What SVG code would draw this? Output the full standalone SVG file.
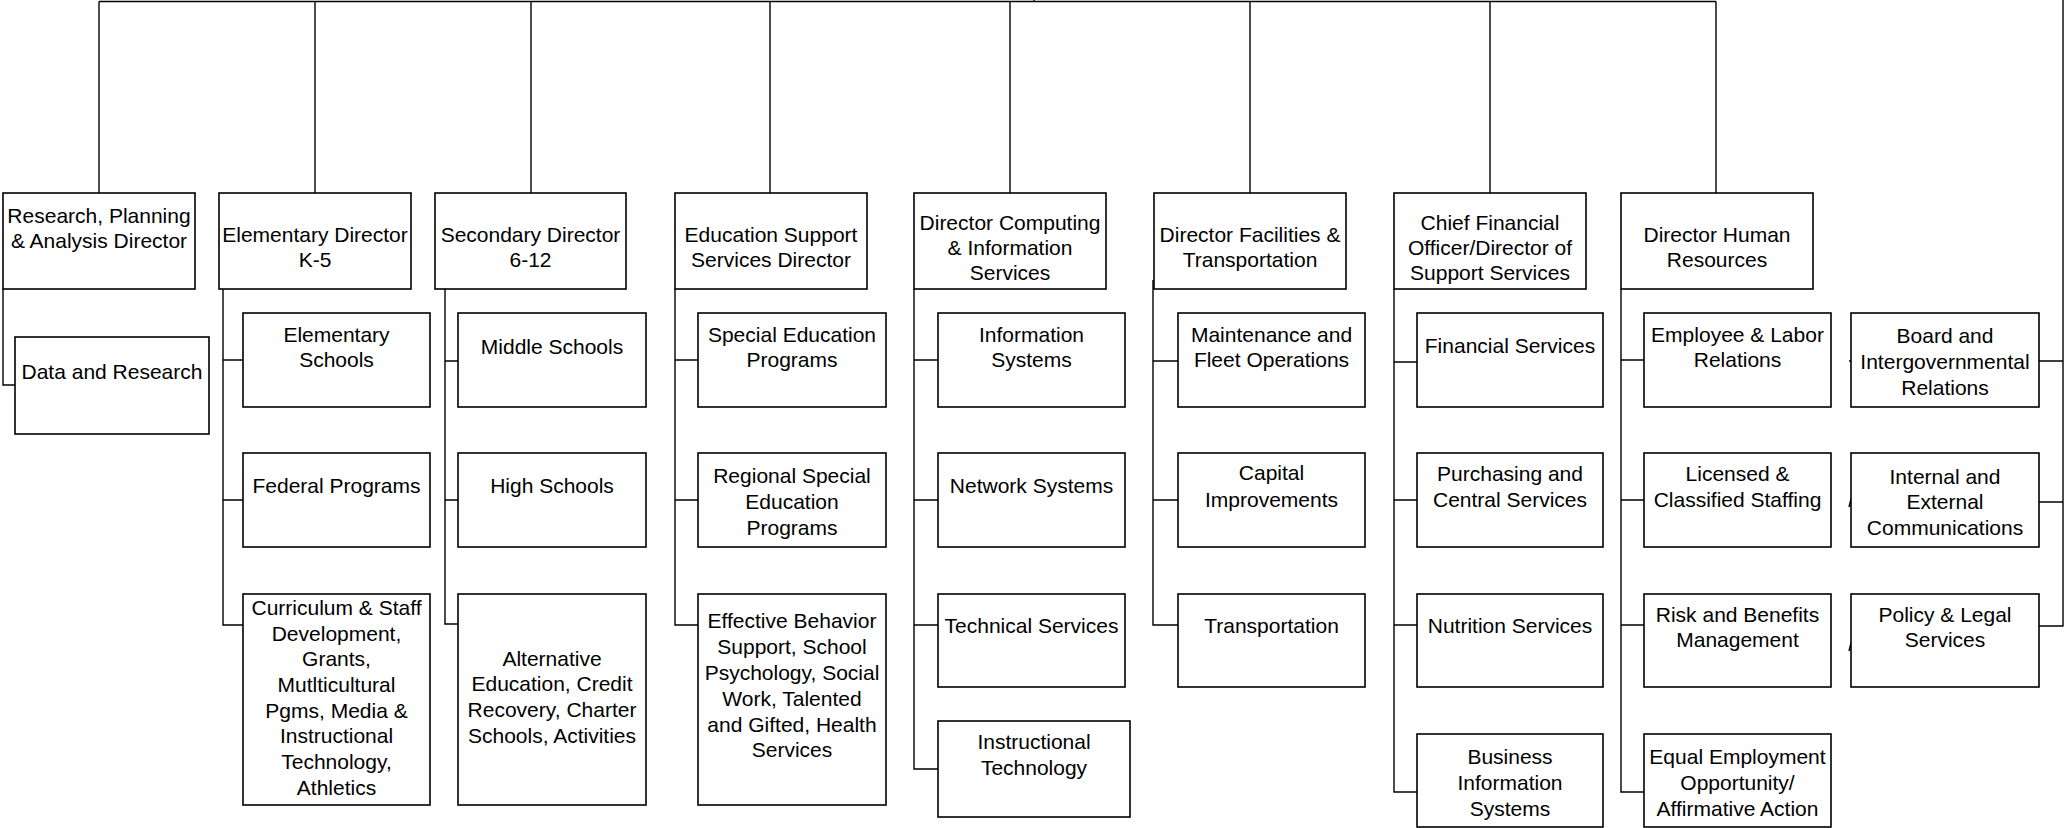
<svg xmlns="http://www.w3.org/2000/svg" width="2065" height="828" viewBox="0 0 2065 828">
<style>
.box{fill:#fff;stroke:#000;stroke-width:1.6}
.t{font-family:"Liberation Sans",Arial,sans-serif;font-size:21px;fill:#000;text-anchor:middle}
.c{fill:none;stroke:#000;stroke-width:1.4}
</style>
<rect x="0" y="0" width="2065" height="828" fill="#fff"/>
<g id="connectors">
<path class="c" d="M99,1.5 H1716 M1034,0 V1.5"/>
<path class="c" d="M99,1.5 V193 M315,1.5 V193 M531,1.5 V193 M770,1.5 V193 M1010,1.5 V193 M1250,1.5 V193 M1490,1.5 V193 M1716,1.5 V193"/>
<path class="c" d="M3,289 V385 H15"/>
<path class="c" d="M223,289 V625 H243 M223,360 H243 M223,500 H243"/>
<path class="c" d="M445,289 V624 H458 M445,361 H458 M445,500 H458"/>
<path class="c" d="M675,289 V625 H698 M675,360 H698 M675,500 H698"/>
<path class="c" d="M914,289 V769 H938 M914,360 H938 M914,500 H938 M914,625 H938"/>
<path class="c" d="M1153,280 V625 H1178 M1153,361 H1178 M1153,500 H1178"/>
<path class="c" d="M1394,289 V792 H1417 M1394,362 H1417 M1394,500 H1417 M1394,625 H1417"/>
<path class="c" d="M1621,289 V792 H1644 M1621,360 H1644 M1621,500 H1644 M1621,625 H1644"/>
<path class="c" d="M2063,0 V626 H2039 M2063,361 H2039 M2063,502 H2039"/>
<path class="c" d="M1849,361 H1852 M1849,507 L1851,499 M1849,651 L1851,643"/>
</g>
<g id="research"><rect class="box" x="3" y="193" width="192" height="96"/><text class="t" x="99" y="223">Research, Planning</text><text class="t" x="99" y="248">&amp; Analysis Director</text></g>
<g id="elem-dir"><rect class="box" x="219" y="193" width="192" height="96"/><text class="t" x="315" y="242">Elementary Director</text><text class="t" x="315" y="267">K-5</text></g>
<g id="sec-dir"><rect class="box" x="435" y="193" width="191" height="96"/><text class="t" x="530.5" y="242">Secondary Director</text><text class="t" x="530.5" y="267">6-12</text></g>
<g id="edu-dir"><rect class="box" x="675" y="193" width="192" height="96"/><text class="t" x="771" y="242">Education Support</text><text class="t" x="771" y="267">Services Director</text></g>
<g id="comp-dir"><rect class="box" x="914" y="193" width="192" height="96"/><text class="t" x="1010" y="230">Director Computing</text><text class="t" x="1010" y="255">&amp; Information</text><text class="t" x="1010" y="280">Services</text></g>
<g id="fac-dir"><rect class="box" x="1154" y="193" width="192" height="96"/><text class="t" x="1250" y="242">Director Facilities &amp;</text><text class="t" x="1250" y="267">Transportation</text></g>
<g id="cfo"><rect class="box" x="1394" y="193" width="192" height="96"/><text class="t" x="1490" y="230">Chief Financial</text><text class="t" x="1490" y="255">Officer/Director of</text><text class="t" x="1490" y="280">Support Services</text></g>
<g id="hr-dir"><rect class="box" x="1621" y="193" width="192" height="96"/><text class="t" x="1717" y="242">Director Human</text><text class="t" x="1717" y="267">Resources</text></g>
<g id="data-research"><rect class="box" x="15" y="337" width="194" height="97"/><text class="t" x="112" y="379">Data and Research</text></g>
<g id="elem-schools"><rect class="box" x="243" y="313" width="187" height="94"/><text class="t" x="336.5" y="342">Elementary</text><text class="t" x="336.5" y="367">Schools</text></g>
<g id="federal"><rect class="box" x="243" y="453" width="187" height="94"/><text class="t" x="336.5" y="493">Federal Programs</text></g>
<g id="curriculum"><rect class="box" x="243" y="594" width="187" height="211"/><text class="t" x="336.5" y="615">Curriculum &amp; Staff</text><text class="t" x="336.5" y="641">Development,</text><text class="t" x="336.5" y="666">Grants,</text><text class="t" x="336.5" y="692">Mutlticultural</text><text class="t" x="336.5" y="718">Pgms, Media &amp;</text><text class="t" x="336.5" y="743">Instructional</text><text class="t" x="336.5" y="769">Technology,</text><text class="t" x="336.5" y="795">Athletics</text></g>
<g id="middle"><rect class="box" x="458" y="313" width="188" height="94"/><text class="t" x="552" y="354">Middle Schools</text></g>
<g id="high"><rect class="box" x="458" y="453" width="188" height="94"/><text class="t" x="552" y="493">High Schools</text></g>
<g id="alternative"><rect class="box" x="458" y="594" width="188" height="211"/><text class="t" x="552" y="666">Alternative</text><text class="t" x="552" y="691">Education, Credit</text><text class="t" x="552" y="717">Recovery, Charter</text><text class="t" x="552" y="743">Schools, Activities</text></g>
<g id="special-ed"><rect class="box" x="698" y="313" width="188" height="94"/><text class="t" x="792" y="342">Special Education</text><text class="t" x="792" y="367">Programs</text></g>
<g id="regional"><rect class="box" x="698" y="453" width="188" height="94"/><text class="t" x="792" y="483">Regional Special</text><text class="t" x="792" y="509">Education</text><text class="t" x="792" y="535">Programs</text></g>
<g id="effective"><rect class="box" x="698" y="594" width="188" height="211"/><text class="t" x="792" y="628">Effective Behavior</text><text class="t" x="792" y="654">Support, School</text><text class="t" x="792" y="680">Psychology, Social</text><text class="t" x="792" y="706">Work, Talented</text><text class="t" x="792" y="732">and Gifted, Health</text><text class="t" x="792" y="757">Services</text></g>
<g id="info-systems"><rect class="box" x="938" y="313" width="187" height="94"/><text class="t" x="1031.5" y="342">Information</text><text class="t" x="1031.5" y="367">Systems</text></g>
<g id="network"><rect class="box" x="938" y="453" width="187" height="94"/><text class="t" x="1031.5" y="493">Network Systems</text></g>
<g id="technical"><rect class="box" x="938" y="594" width="187" height="93"/><text class="t" x="1031.5" y="633">Technical Services</text></g>
<g id="instr-tech"><rect class="box" x="938" y="721" width="192" height="96"/><text class="t" x="1034" y="749">Instructional</text><text class="t" x="1034" y="775">Technology</text></g>
<g id="maintenance"><rect class="box" x="1178" y="313" width="187" height="94"/><text class="t" x="1271.5" y="342">Maintenance and</text><text class="t" x="1271.5" y="367">Fleet Operations</text></g>
<g id="capital"><rect class="box" x="1178" y="453" width="187" height="94"/><text class="t" x="1271.5" y="480">Capital</text><text class="t" x="1271.5" y="507">Improvements</text></g>
<g id="transportation"><rect class="box" x="1178" y="594" width="187" height="93"/><text class="t" x="1271.5" y="633">Transportation</text></g>
<g id="financial"><rect class="box" x="1417" y="313" width="186" height="94"/><text class="t" x="1510" y="353">Financial Services</text></g>
<g id="purchasing"><rect class="box" x="1417" y="453" width="186" height="94"/><text class="t" x="1510" y="481">Purchasing and</text><text class="t" x="1510" y="507">Central Services</text></g>
<g id="nutrition"><rect class="box" x="1417" y="594" width="186" height="93"/><text class="t" x="1510" y="633">Nutrition Services</text></g>
<g id="business-info"><rect class="box" x="1417" y="734" width="186" height="93"/><text class="t" x="1510" y="764">Business</text><text class="t" x="1510" y="790">Information</text><text class="t" x="1510" y="816">Systems</text></g>
<g id="employee"><rect class="box" x="1644" y="313" width="187" height="94"/><text class="t" x="1737.5" y="342">Employee &amp; Labor</text><text class="t" x="1737.5" y="367">Relations</text></g>
<g id="licensed"><rect class="box" x="1644" y="453" width="187" height="94"/><text class="t" x="1737.5" y="481">Licensed &amp;</text><text class="t" x="1737.5" y="507">Classified Staffing</text></g>
<g id="risk"><rect class="box" x="1644" y="594" width="187" height="93"/><text class="t" x="1737.5" y="622">Risk and Benefits</text><text class="t" x="1737.5" y="647">Management</text></g>
<g id="eeo"><rect class="box" x="1644" y="734" width="187" height="93"/><text class="t" x="1737.5" y="764">Equal Employment</text><text class="t" x="1737.5" y="790">Opportunity/</text><text class="t" x="1737.5" y="816">Affirmative Action</text></g>
<g id="board"><rect class="box" x="1851" y="313" width="188" height="94"/><text class="t" x="1945" y="343">Board and</text><text class="t" x="1945" y="369">Intergovernmental</text><text class="t" x="1945" y="395">Relations</text></g>
<g id="communications"><rect class="box" x="1851" y="453" width="188" height="94"/><text class="t" x="1945" y="484">Internal and</text><text class="t" x="1945" y="509">External</text><text class="t" x="1945" y="535">Communications</text></g>
<g id="policy"><rect class="box" x="1851" y="594" width="188" height="93"/><text class="t" x="1945" y="622">Policy &amp; Legal</text><text class="t" x="1945" y="647">Services</text></g>
</svg>
